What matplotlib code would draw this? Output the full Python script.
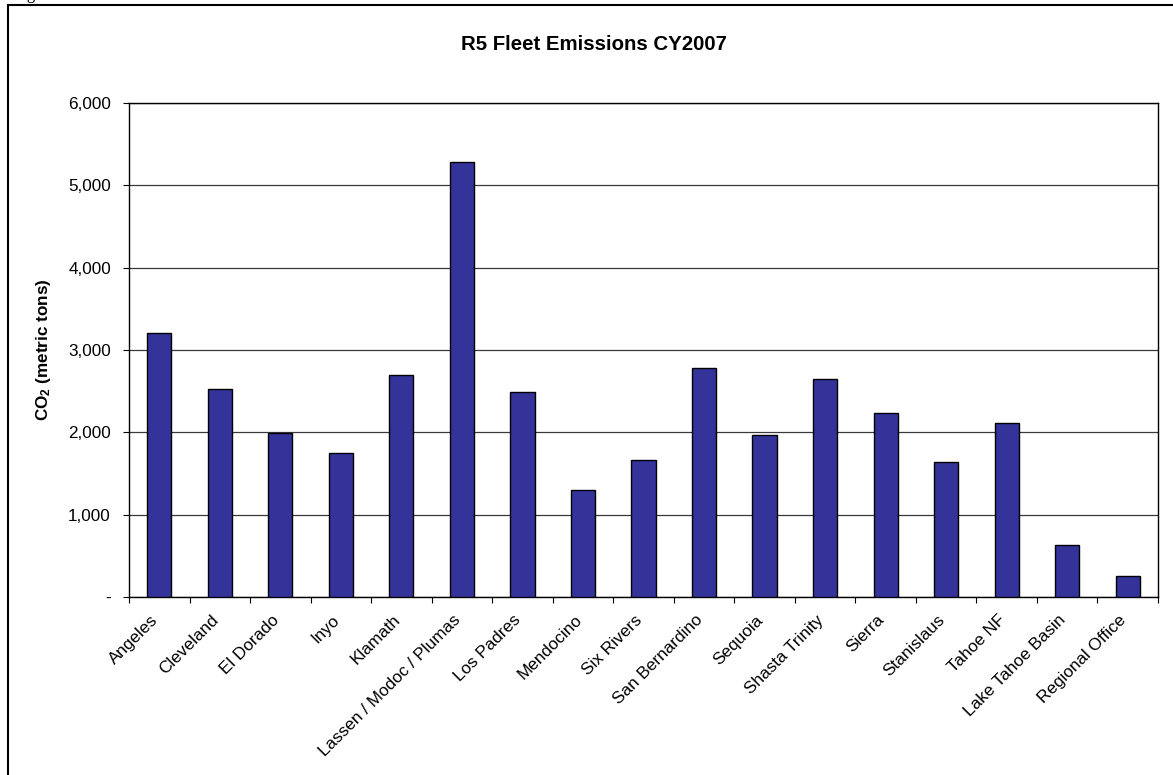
import matplotlib
matplotlib.use("Agg")
import matplotlib.pyplot as plt
from matplotlib.patches import Rectangle
from matplotlib.ticker import FuncFormatter, FixedLocator
from matplotlib.transforms import ScaledTranslation
import numpy as np

plt.rcParams['font.family'] = ['Liberation Sans', 'DejaVu Sans']
plt.rcParams['mathtext.fontset'] = 'custom'
plt.rcParams['mathtext.rm'] = 'Liberation Sans:bold'
plt.rcParams['mathtext.it'] = 'Liberation Sans:bold'

forests = ['Angeles', 'Cleveland', 'El Dorado', 'Inyo', 'Klamath',
           'Lassen / Modoc / Plumas', 'Los Padres', 'Mendocino', 'Six Rivers',
           'San Bernardino', 'Sequoia', 'Shasta Trinity', 'Sierra',
           'Stanislaus', 'Tahoe NF', 'Lake Tahoe Basin', 'Regional Office']
co2 = [3210, 2530, 1990, 1755, 2700, 5285, 2485, 1300, 1665,
       2785, 1965, 2645, 2235, 1645, 2115, 635, 250]

W, H = 1173, 775
fig = plt.figure(figsize=(W / 100, H / 100), dpi=100)
ax = fig.add_axes([129 / W, 1 - 597 / H, 1029 / W, 494 / H])

x = np.arange(len(forests))
ax.bar(x, co2, width=0.4, color='#333399', edgecolor='black', linewidth=1.0, zorder=3)

ax.set_xlim(-0.5, len(forests) - 0.5)
ax.set_ylim(0, 6000)
ax.set_yticks(range(0, 6001, 1000))
ax.yaxis.set_major_formatter(FuncFormatter(lambda v, p: '-' if v == 0 else f'{int(v):,}'))
ax.yaxis.grid(True, color='#3a3a3a', linewidth=0.9, zorder=1)
ax.tick_params(axis='y', direction='out', length=4, width=0.8, pad=9, labelsize=12.3)

# category labels centred on bars, tick marks on the boundaries
ax.set_xticks(x)
ax.set_xticklabels(forests, rotation=45, ha='right', va='top', rotation_mode='anchor', fontsize=12.3)
ax.tick_params(axis='x', which='major', length=0, pad=11)
shift = ScaledTranslation(-9 / 100, 0, fig.dpi_scale_trans)
for lbl in ax.get_xticklabels():
    lbl.set_transform(lbl.get_transform() + shift)
ax.xaxis.set_minor_locator(FixedLocator(np.arange(-0.5, len(forests), 1.0)))
ax.tick_params(axis='x', which='minor', direction='out', length=4, width=0.8)

for s in ax.spines.values():
    s.set_color('black')
    s.set_linewidth(1.0)

ax.set_ylabel('CO$_2$ (metric tons)', fontsize=12.3, fontweight='bold')
ax.yaxis.set_label_coords(-(129 - 53) / 1029, 0.5)

fig.text(593.5 / W, 1 - 45 / H, 'R5 Fleet Emissions CY2007', ha='center', va='center',
         fontsize=14.7, fontweight='bold')

# caption text above the frame, mostly cut off
fig.text(14 / W, 1 + 1 / H, 'Figure', family='Liberation Serif', fontsize=12, va='baseline')

fig.patches.append(Rectangle((8 / W, -0.1), 1.2, 1.1 - 5 / H, transform=fig.transFigure,
                             fill=False, edgecolor='black', linewidth=1.5, clip_on=False))

fig.savefig('out.png', dpi=100)
